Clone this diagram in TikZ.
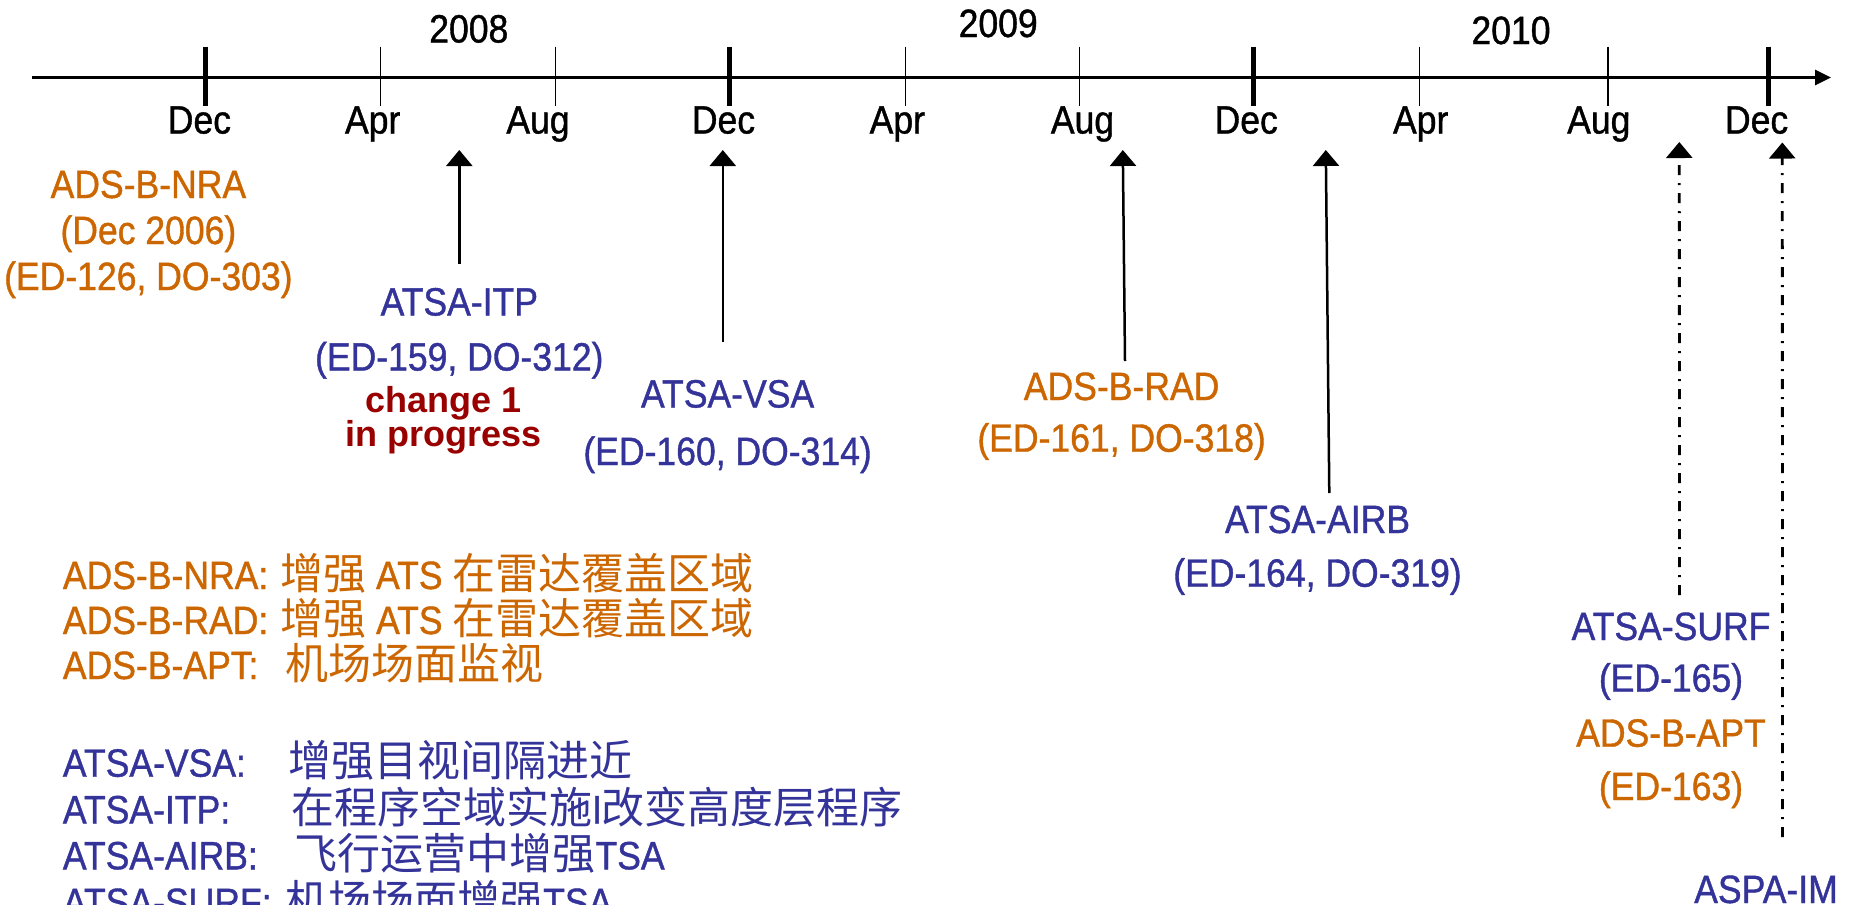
\documentclass[tikz,border=0pt]{standalone}
\usepackage{fontspec}
\setmainfont{Liberation Sans}[FakeStretch=0.9,FakeBold=1]
\newfontfamily\cjk{Noto Sans CJK SC}
\newfontfamily\plainsans{Liberation Sans}
\usetikzlibrary{arrows.meta}
\definecolor{adsorange}{RGB}{204,102,0}
\definecolor{atsablue}{RGB}{51,51,153}
\definecolor{chgred}{RGB}{153,0,0}
\newcommand\zh[1]{{\cjk\fontsize{43}{50}\selectfont #1}}
\tikzset{
	lbl/.style={anchor=base, inner sep=0pt, font=\fontsize{39.5}{46}\selectfont},
	ads/.style={lbl, text=adsorange},
	atsa/.style={lbl, text=atsablue},
	chg/.style={anchor=base, inner sep=0pt, text=chgred, font=\plainsans\bfseries\fontsize{36}{41}\selectfont},
	timeline/.style={line width=2.7pt, -{Triangle[length=16pt,width=15pt]}},
	evt/.style={line width=2.5pt, -{Triangle[length=16pt,width=26pt]}},
	plan/.style={evt, line width=2.8pt, dash pattern=on 10pt off 8pt on 2pt off 8pt},
}
\begin{document}
\begin{tikzpicture}[x=1pt,y=-1pt]
	\useasboundingbox (0,0) rectangle (1861,905);
	% time axis
	\coordinate (ax0) at (32,77.5);
	\coordinate (ax1) at (1831,77.5);
	\draw[timeline] (ax0) -- (ax1);
	\foreach \x in {205.5,729,1253.5,1768}
		\draw[line width=5pt] (\x,46.5) -- (\x,106);
	\foreach \x in {380.5,555.3,905.3,1079.5,1419.5,1608}
		\draw[line width=1.3pt] (\x,46.5) -- (\x,106);
	\foreach \x/\m [count=\i] in {199.4/Dec,372.7/Apr,538/Aug,723.5/Dec,897.3/Apr,1082.5/Aug,1246.2/Dec,1420.7/Apr,1598.8/Aug,1756.6/Dec}
		\node[lbl] (mon\i) at (\x,133.5) {\m};
	\node[lbl] (y2008) at (468.8,42.5) {2008};
	\node[lbl] (y2009) at (998.2,37) {2009};
	\node[lbl] (y2010) at (1511,44) {2010};

	% standards
	\node[ads] (nra1) at (148.4,198) {ADS-B-NRA};
	\node[ads] (nra2) at (148.4,244) {(Dec 2006)};
	\node[ads] (nra3) at (148.4,290) {(ED-126, DO-303)};
	\node[atsa] (itp1) at (459.3,315.5) {ATSA-ITP};
	\node[atsa] (itp2) at (459.3,370.5) {(ED-159, DO-312)};
	\node[chg] (chg1) at (443.5,412.5) {change 1};
	\node[chg] (chg2) at (443.5,446) {in progress};
	\node[atsa] (vsa1) at (727.6,407.5) {ATSA-VSA};
	\node[atsa] (vsa2) at (727.6,465) {(ED-160, DO-314)};
	\node[ads] (rad1) at (1121.6,400) {ADS-B-RAD};
	\node[ads] (rad2) at (1121.6,451.7) {(ED-161, DO-318)};
	\node[atsa] (airb1) at (1317.5,533) {ATSA-AIRB};
	\node[atsa] (airb2) at (1317.5,586.7) {(ED-164, DO-319)};
	\node[atsa] (surf1) at (1671,640) {ATSA-SURF};
	\node[atsa] (surf2) at (1671,691.7) {(ED-165)};
	\node[ads] (apt1) at (1671,746.7) {ADS-B-APT};
	\node[ads] (apt2) at (1671,800) {(ED-163)};
	\node[atsa] (aspa) at (1766,903) {ASPA-IM};

	% publication arrows
	\coordinate (itpf) at (459.3,263.5);   \coordinate (itpt) at (459.3,150);
	\coordinate (vsaf) at (722.8,341.8);   \coordinate (vsat) at (722.8,150);
	\coordinate (radf) at (1125,361);      \coordinate (radt) at (1122.8,150);
	\coordinate (airbf) at (1329.3,493);   \coordinate (airbt) at (1325.8,150);
	\coordinate (surff) at (1679.5,595);   \coordinate (surft) at (1679.3,142);
	\coordinate (aspaf) at (1782.5,837);   \coordinate (aspat) at (1782.3,142.5);
	\draw[evt] (itpf) -- (itpt);
	\draw[evt] (vsaf) -- (vsat);
	\draw[evt] (radf) -- (radt);
	\draw[evt] (airbf) -- (airbt);
	\draw[plan] (surff) -- (surft);
	\draw[plan] (aspaf) -- (aspat);

	% legend
	\node[ads, anchor=base west] (k1) at (62.7,589) {ADS-B-NRA:};
	\node[ads, anchor=base west] (d1) at (280,589) {\zh{增强} ATS \zh{在雷达覆盖区域}};
	\node[ads, anchor=base west] (k2) at (62.7,634) {ADS-B-RAD:};
	\node[ads, anchor=base west] (d2) at (280,634) {\zh{增强} ATS \zh{在雷达覆盖区域}};
	\node[ads, anchor=base west] (k3) at (62.7,679) {ADS-B-APT:};
	\node[ads, anchor=base west] (d3) at (285,679) {\zh{机场场面监视}};
	\node[atsa, anchor=base west] (k4) at (62.7,776.7) {ATSA-VSA:};
	\node[atsa, anchor=base west] (d4) at (288.4,776.7) {\zh{增强目视间隔进近}};
	\node[atsa, anchor=base west] (k5) at (62.7,823.3) {ATSA-ITP:};
	\node[atsa, anchor=base west] (d5) at (290.8,823.3) {\zh{在程序空域实施}I\zh{改变高度层程序}};
	\node[atsa, anchor=base west] (k6) at (62.7,869.3) {ATSA-AIRB:};
	\node[atsa, anchor=base west] (d6) at (294.3,869.3) {\zh{飞行运营中增强}TSA};
	\node[atsa, anchor=base west] (k7) at (62.7,916) {ATSA-SURF:};
	\node[atsa, anchor=base west] (d7) at (285,916) {\zh{机场场面增强}TSA};
\end{tikzpicture}
\end{document}
